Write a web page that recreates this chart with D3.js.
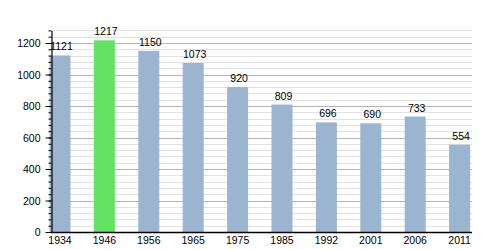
<!DOCTYPE html>
<html>
<head>
<meta charset="utf-8">
<script src="https://cdn.jsdelivr.net/npm/d3@7"></script>
<style>
  body { margin: 0; background: #fff; }
  text { font-family: "Liberation Sans", Arial, sans-serif; }
</style>
</head>
<body>
<div id="chart"></div>
<script>
// data
var years = ["1934", "1946", "1956", "1965", "1975", "1985", "1992", "2001", "2006", "2011"];
var population = [1121, 1217, 1150, 1073, 920, 809, 696, 690, 733, 554];
var highlightYear = "1946";
var yTicks = [0, 200, 400, 600, 800, 1000, 1200];

var width = 500, height = 250;

var svg = d3.select("#chart")
  .append("svg")
    .attr("width", width)
    .attr("height", height);

// scales
var x = d3.scaleBand()
  .domain(years)
  .range([37.8, 481.8])
  .paddingInner(0.527)
  .paddingOuter(0.2635);

var y = d3.scaleLinear()
  .domain([0, 1280])
  .range([232, 30.4]);

var left = 51, right = 472;

// minor grid lines
svg.append("g")
  .selectAll("line")
  .data(d3.range(40, 1281, 40).filter(function(v) { return v % 200 != 0; }))
  .enter()
  .append("line")
    .attr("x1", left).attr("x2", right)
    .attr("y1", function(d) { return Math.round(y(d)) + 0.5; })
    .attr("y2", function(d) { return Math.round(y(d)) + 0.5; })
    .style("stroke", "#e2e2e2")
    .style("stroke-width", 1);

// major grid lines
svg.append("g")
  .selectAll("line")
  .data(yTicks.slice(1))
  .enter()
  .append("line")
    .attr("x1", left).attr("x2", right)
    .attr("y1", function(d) { return Math.round(y(d)) + 0.5; })
    .attr("y2", function(d) { return Math.round(y(d)) + 0.5; })
    .style("stroke", "#b4b4b4")
    .style("stroke-width", 1);

// bars
svg.append("g")
  .selectAll("rect")
  .data(years)
  .enter()
  .append("rect")
    .attr("x", function(d) { return x(d); })
    .attr("y", function(d, i) { return y(population[i]); })
    .attr("width", x.bandwidth())
    .attr("height", function(d, i) { return y(0) - y(population[i]); })
    .style("fill", function(d) { return d == highlightYear ? "#64e264" : "#9bb4cf"; });

// y axis
var yAxis = svg.append("g")
  .attr("transform", "translate(" + (left + 0.5) + ",0)");

yAxis.append("g")
  .call(d3.axisLeft(y).tickValues(d3.range(0, 1281, 40)).tickSize(3).tickFormat(""))
  .call(function(g) { g.select(".domain").remove(); });

yAxis.append("g")
  .call(d3.axisLeft(y).tickValues(yTicks).tickSize(6).tickPadding(5).tickSizeOuter(0).tickFormat(d3.format("d")))
  .call(function(g) {
    g.select(".domain").attr("stroke-width", 1.2);
    g.selectAll("text").style("font-size", "10.5px").style("fill", "#000").attr("dy", "0.35em");
  });

// x axis
svg.append("line")
  .attr("x1", left).attr("x2", right)
  .attr("y1", y(0) + 0.5).attr("y2", y(0) + 0.5)
  .style("stroke", "#000")
  .style("stroke-width", 1.5);

svg.append("g")
  .selectAll("text")
  .data(years)
  .enter()
  .append("text")
    .attr("x", function(d) { return x(d) + x.bandwidth() / 2; })
    .attr("y", 244)
    .attr("text-anchor", "middle")
    .style("font-size", "10.5px")
    .style("fill", "#000")
    .text(function(d) { return d; });

// value labels (on top of axis)
svg.append("g")
  .selectAll("text")
  .data(years)
  .enter()
  .append("text")
    .attr("x", function(d) { return x(d) + x.bandwidth() / 2 + 1.5; })
    .attr("y", function(d, i) { return y(population[i]) - 5; })
    .attr("text-anchor", "middle")
    .style("font-size", "10.5px")
    .style("fill", "#000")
    .text(function(d, i) { return population[i]; });
</script>
</body>
</html>
